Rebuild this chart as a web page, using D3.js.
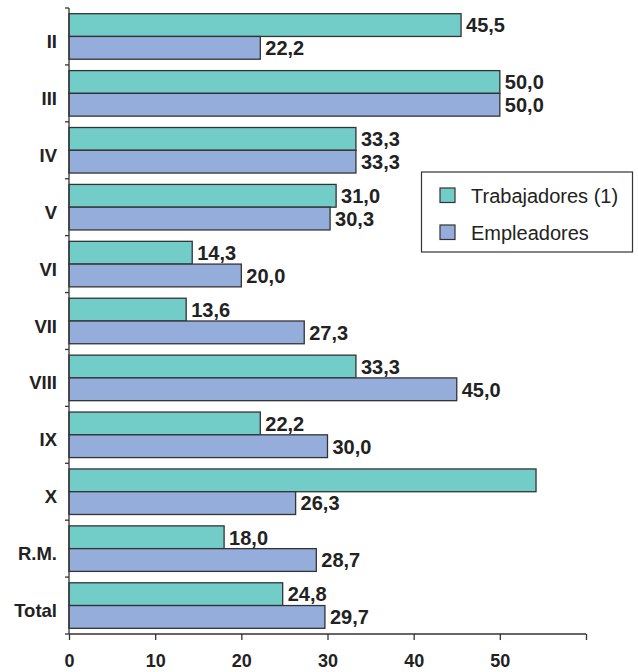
<!DOCTYPE html>
<html><head><meta charset="utf-8">
<script src="https://cdn.jsdelivr.net/npm/d3@7"></script>
<style>body{margin:0;background:#fff}svg{display:block}</style>
</head><body>
<script>
const categories = ["II","III","IV","V","VI","VII","VIII","IX","X","R.M.","Total"];
const trabajadores = [45.5,50.0,33.3,31.0,14.3,13.6,33.3,22.2,54.2,18.0,24.8];
const trabajadoresLabels = ["45,5","50,0","33,3","31,0","14,3","13,6","33,3","22,2","","18,0","24,8"];
const empleadores = [22.2,50.0,33.3,30.3,20.0,27.3,45.0,30.0,26.3,28.7,29.7];
const empleadoresLabels = ["22,2","50,0","33,3","30,3","20,0","27,3","45,0","30,0","26,3","28,7","29,7"];
const seriesNames = ["Trabajadores (1)","Empleadores"];
const xTicks = [0,10,20,30,40,50];

const W=638,H=672;
const svg=d3.select("body").append("svg").attr("width",W).attr("height",H);
const x=d3.scaleLinear().domain([0,60]).range([69,586]);
const y=d3.scaleBand().domain(categories).range([8,634]).paddingInner(0.2).paddingOuter(0.1);
const colors=["#72cdc8","#95addb"];
const stroke="#333";
const font="'Liberation Sans', Arial, sans-serif";

const g=svg.append("g");
const series=[trabajadores,empleadores];
const labs=[trabajadoresLabels,empleadoresLabels];
const bh=y.bandwidth()/2;
series.forEach((vals,si)=>{
  g.selectAll(null).data(categories).enter().append("rect")
    .attr("x",x(0)).attr("y",(d)=>y(d)+si*bh)
    .attr("width",(d,i)=>x(vals[i])-x(0)).attr("height",bh)
    .attr("fill",colors[si]).attr("stroke",stroke).attr("stroke-width",1.3);
  g.selectAll(null).data(categories).enter().append("text")
    .attr("x",(d,i)=>x(vals[i])+5).attr("y",(d)=>y(d)+si*bh+bh/2+7.3)
    .attr("font-family",font).attr("font-weight","bold").attr("font-size",20)
    .attr("fill","#222").text((d,i)=>labs[si][i]);
});

// Y axis
const yAxis=svg.append("g");
yAxis.append("line").attr("x1",69).attr("x2",69).attr("y1",8).attr("y2",634).attr("stroke",stroke).attr("stroke-width",1.3);
const stepPx=(634-8)/categories.length;
d3.range(categories.length+1).forEach(i=>{
  const yy=8+i*stepPx;
  yAxis.append("line").attr("x1",65).attr("x2",69).attr("y1",yy).attr("y2",yy).attr("stroke",stroke).attr("stroke-width",1.3);
});
yAxis.selectAll("text").data(categories).enter().append("text")
  .attr("x",57).attr("y",d=>y(d)+y.bandwidth()/2+11.5).attr("text-anchor","end")
  .attr("font-family",font).attr("font-weight","bold").attr("font-size",18.5).attr("fill","#222").text(d=>d);

// X axis
const xa=svg.append("g").attr("transform","translate(0,634)")
  .call(d3.axisBottom(x).tickValues(d3.range(0,61,10)).tickSize(6).tickFormat(d=>xTicks.includes(d)?d:""));
xa.select(".domain").attr("stroke",stroke).attr("stroke-width",1.3).attr("d","M69,0H586");
xa.selectAll(".tick line").attr("stroke",stroke).attr("stroke-width",1.3);
xa.selectAll(".tick text").attr("font-family",font).attr("font-weight","bold").attr("font-size",18).attr("fill","#222").attr("y",33).attr("dy",0);

// Legend
const lg=svg.append("g");
lg.append("rect").attr("x",421.5).attr("y",172).attr("width",211).attr("height",80).attr("fill","#fff").attr("stroke",stroke).attr("stroke-width",1.2);
seriesNames.forEach((n,i)=>{
  const cy=[195,232][i];
  lg.append("rect").attr("x",440).attr("y",cy-7).attr("width",15).attr("height",14.5).attr("fill",colors[i]).attr("stroke",stroke).attr("stroke-width",1.2);
  lg.append("text").attr("x",471).attr("y",cy+8.3).attr("font-family",font).attr("font-size",20).attr("fill","#222").text(n);
});
</script>
</body></html>
